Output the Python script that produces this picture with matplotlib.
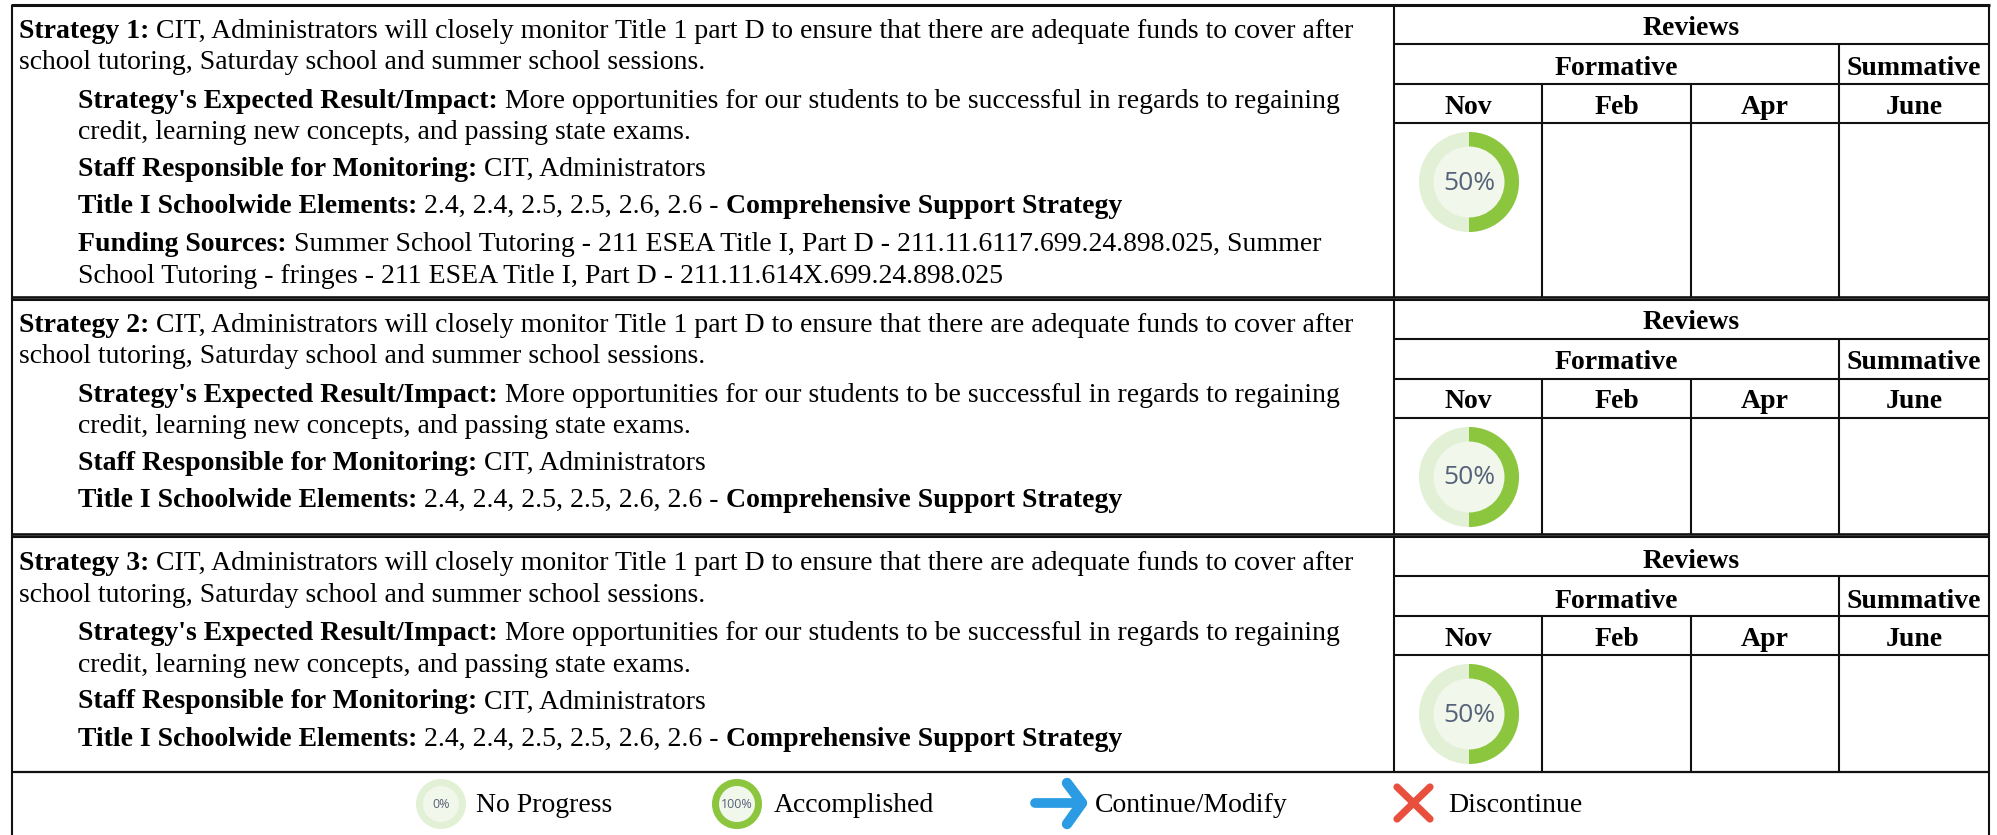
# -*- coding: utf-8 -*-
"""
Campus plan strategy table with review donuts
"""

import matplotlib
matplotlib.use("Agg")
import matplotlib.pyplot as plt
from matplotlib.patches import Wedge, Circle

# Data
strategy_names = ["Strategy 1:", "Strategy 2:", "Strategy 3:"]
strategy_line1 = " CIT, Administrators will closely monitor Title 1 part D to ensure that there are adequate funds to cover after"
strategy_line2 = "school tutoring, Saturday school and summer school sessions."
impact_label = "Strategy's Expected Result/Impact:"
impact_line1 = " More opportunities for our students to be successful in regards to regaining"
impact_line2 = "credit, learning new concepts, and passing state exams."
staff_label = "Staff Responsible for Monitoring:"
staff_text = " CIT, Administrators"
elements_label = "Title I Schoolwide Elements:"
elements_text = " 2.4, 2.4, 2.5, 2.5, 2.6, 2.6 - "
elements_tail = "Comprehensive Support Strategy"
funding_label = "Funding Sources:"
funding_line1 = " Summer School Tutoring - 211 ESEA Title I, Part D - 211.11.6117.699.24.898.025, Summer"
funding_line2 = "School Tutoring - fringes - 211 ESEA Title I, Part D - 211.11.614X.699.24.898.025"
has_funding = [True, False, False]

review_months = ["Nov", "Feb", "Apr", "June"]
nov_progress = [50, 50, 50]

legend_labels = ["No Progress", "Accomplished", "Continue/Modify", "Discontinue"]
legend_progress = [0, 100]

# Layout, in pixels of the target picture
W, H = 1997, 835
row_top = [5, 300, 537]
row_bot = [297, 534, 772]
grid_top = [5, 299.5, 537]
text_shift = [1, 0, 1.5]
x_left, x_split, x_right = 12, 1394, 1989
col_x = [1394, 1542, 1691, 1839, 1989]
FS = 20

GREEN = "#8cc63f"
LIGHT = "#e2f0d5"
CORE = "#f1f7ea"
INK = "#111111"

fig = plt.figure(figsize=(W / 100, H / 100), dpi=100)
ax = fig.add_axes([0, 0, 1, 1])
ax.set_xlim(0, W)
ax.set_ylim(H, 0)
ax.axis("off")
rend = fig.canvas.get_renderer()


def adv(s, size, bold):
    # width with the trailing blanks counted
    t = ax.text(0, 0, s.rstrip() + ".", family="Liberation Serif", fontsize=size,
                fontweight="bold" if bold else "normal")
    d = ax.text(0, 0, ".", family="Liberation Serif", fontsize=size,
                fontweight="bold" if bold else "normal")
    w = t.get_window_extent(rend).width - d.get_window_extent(rend).width
    sp = size * 100 / 72 * 0.25
    t.remove()
    d.remove()
    return w + sp * (len(s) - len(s.rstrip()))


def runs(x, y, parts, size=FS):
    # parts : list of (string, bold), each placed after the previous one
    for s, bold in parts:
        ax.text(x, y, s, family="Liberation Serif", fontsize=size, color="black",
                fontweight="bold" if bold else "normal", va="baseline", ha="left")
        x = x + adv(s, size, bold)
    return x


def hline(y, x0, x1, lw=1.5):
    ax.plot([x0, x1], [y, y], color=INK, lw=lw, solid_capstyle="butt")


def vline(x, y0, y1, lw=1.5):
    ax.plot([x, x], [y0, y1], color=INK, lw=lw, solid_capstyle="butt")


def head(x, y, s):
    ax.text(x, y, s, family="Liberation Serif", fontsize=FS, fontweight="bold",
            ha="center", va="baseline", color="black")


def donut(cx, cy, r, rin, pct, label, fsize):
    ax.add_patch(Circle((cx, cy), r, fc=LIGHT, ec="none"))
    if pct > 0:
        # axis y is flipped, so angles run clockwise from 12 o'clock at -90
        ax.add_patch(Wedge((cx, cy), r, -90, -90 + 3.6 * pct, fc=GREEN, ec="none"))
    ax.add_patch(Circle((cx, cy), rin, fc=CORE, ec="none"))
    ax.text(cx, cy + 1, label, family="Open Sans", fontsize=fsize, color="#56627a",
            ha="center", va="center")


#--------------------------------------------------------------------------
# Strategy rows
#--------------------------------------------------------------------------
for i in range(3):
    y0 = row_top[i] + text_shift[i]
    y1 = row_bot[i]
    runs(19, y0 + 32, [(strategy_names[i], True), (strategy_line1, False)])
    runs(19, y0 + 63, [(strategy_line2, False)])
    runs(78, y0 + 102, [(impact_label, True), (impact_line1, False)])
    runs(78, y0 + 133, [(impact_line2, False)])
    runs(78, y0 + 170, [(staff_label, True), (staff_text, False)])
    runs(78, y0 + 207, [(elements_label, True), (elements_text, False), (elements_tail, True)])
    if has_funding[i]:
        runs(78, y0 + 245, [(funding_label, True), (funding_line1, False)])
        runs(78, y0 + 277, [(funding_line2, False)])

    # Reviews grid
    g0 = grid_top[i]
    y_a, y_b, y_c = g0 + 39, g0 + 79, g0 + 118
    hline(y_a, x_split, x_right)
    hline(y_b, x_split, x_right)
    hline(y_c, x_split, x_right)
    vline(col_x[3], y_a, y1)
    vline(col_x[1], y_b, y1)
    vline(col_x[2], y_b, y1)
    vline(x_split, row_top[i], y1)

    head((col_x[0] + col_x[4]) / 2, y0 + 29, "Reviews")
    head((col_x[0] + col_x[3]) / 2, y0 + 69, "Formative")
    head((col_x[3] + col_x[4]) / 2, y0 + 69, "Summative")
    for j in range(4):
        head((col_x[j] + col_x[j + 1]) / 2, y0 + 108, review_months[j])

    donut(1469, row_top[i] + 177, 50, 35.5, nov_progress[i], "%d%%" % nov_progress[i], 19)

# Outer frame and row rules
hline(row_top[0], x_left - 1, x_right + 1, 2.2)
vline(x_left, row_top[0], H, 1.5)
vline(x_right, row_top[0], H, 1.5)
hline(297, x_left, x_right, 1.9)
hline(300, x_left, x_right, 1.5)
hline(534, x_left, x_right, 1.9)
hline(537, x_left, x_right, 1.5)
hline(772, x_left, x_right, 1.6)

#--------------------------------------------------------------------------
# Legend
#--------------------------------------------------------------------------
donut(441, 804, 25, 18, legend_progress[0], "%d%%" % legend_progress[0], 9)
donut(737, 804, 25, 18, legend_progress[1], "%d%%" % legend_progress[1], 9)

# Arrow
ax.plot([1035, 1082], [803, 803], color="#2b9be3", lw=7, solid_capstyle="round")
ax.plot([1067, 1082, 1067], [783, 803, 824], color="#2b9be3", lw=7.5,
        solid_capstyle="round", solid_joinstyle="round")

# Cross
ax.plot([1397, 1430], [787, 819], color="#e94f3d", lw=5.2, solid_capstyle="round")
ax.plot([1430, 1397], [787, 819], color="#e94f3d", lw=5.2, solid_capstyle="round")

for x, s in zip([476, 774, 1095, 1448], legend_labels):
    runs(x, 812, [(s, False)])

plt.savefig("out.png", dpi=100)
